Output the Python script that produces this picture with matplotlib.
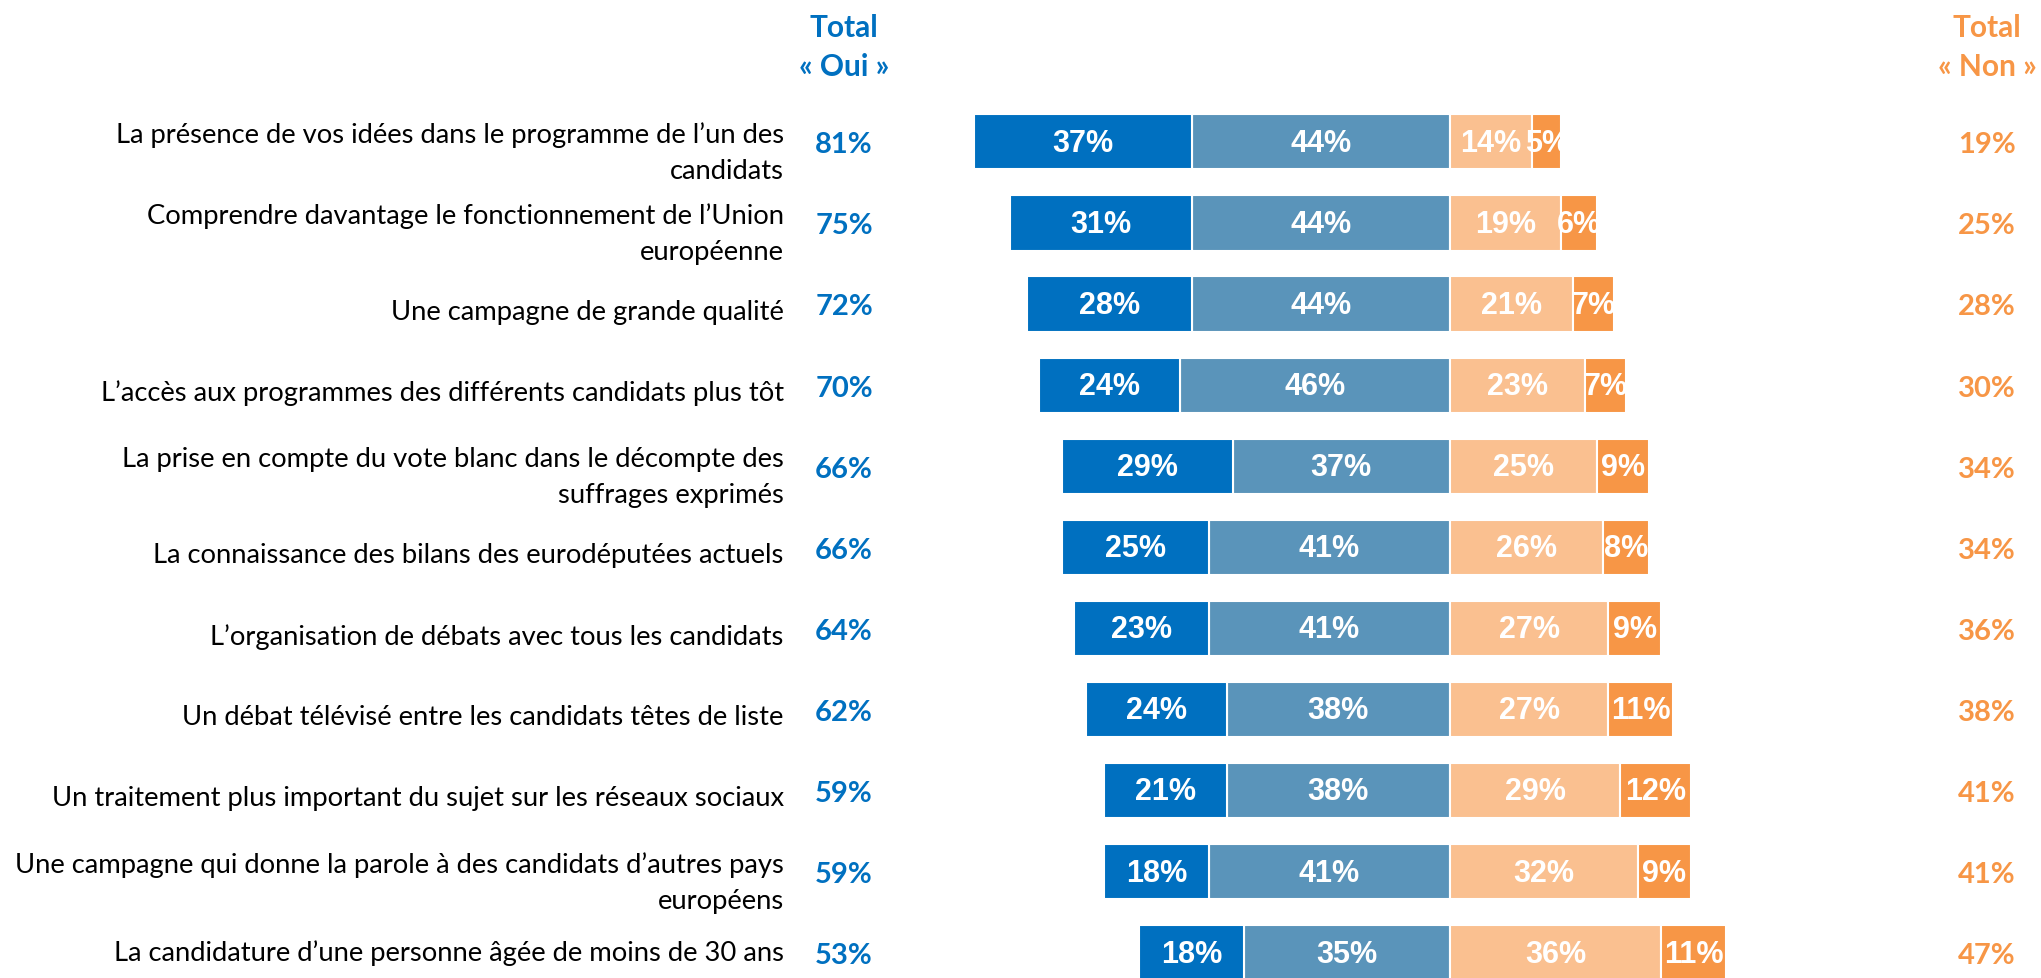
import matplotlib.pyplot as plt
from matplotlib import font_manager

# ── Data ─────────────────────────────────────────────
labels = [
    "La présence de vos idées dans le programme de l\u2019un des\ncandidats",
    "Comprendre davantage le fonctionnement de l\u2019Union\neuropéenne",
    "Une campagne de grande qualité",
    "L\u2019accès aux programmes des différents candidats plus tôt",
    "La prise en compte du vote blanc dans le décompte des\nsuffrages exprimés",
    "La connaissance des bilans des eurodéputées actuels",
    "L\u2019organisation de débats avec tous les candidats",
    "Un débat télévisé entre les candidats têtes de liste",
    "Un traitement plus important du sujet sur les réseaux sociaux",
    "Une campagne qui donne la parole à des candidats d\u2019autres pays\neuropéens",
    "La candidature d\u2019une personne âgée de moins de 30 ans",
]
oui_fort   = [37, 31, 28, 24, 29, 25, 23, 24, 21, 18, 18]
oui_plutot = [44, 44, 44, 46, 37, 41, 41, 38, 38, 41, 35]
non_plutot = [14, 19, 21, 23, 25, 26, 27, 27, 29, 32, 36]
non_fort   = [5, 6, 7, 7, 9, 8, 9, 11, 12, 9, 11]
total_oui  = [81, 75, 72, 70, 66, 66, 64, 62, 59, 59, 53]
total_non  = [19, 25, 28, 30, 34, 34, 36, 38, 41, 41, 47]

C_BLUE    = "#0070C0"
C_STEEL   = "#5A94BA"
C_PEACH   = "#FAC090"
C_ORANGE  = "#F79646"

names = {f.name for f in font_manager.fontManager.ttflist}
TXT_FONT = "Lato" if "Lato" in names else "DejaVu Sans"
NUM_FONT = "Liberation Sans Narrow" if "Liberation Sans Narrow" in names else "Liberation Sans"

fig = plt.figure(figsize=(20.41, 9.79), dpi=100)
ax = fig.add_axes([0, 0, 1, 1])
ax.set_xlim(-247.0, 100.7)
ax.set_ylim(10.32, -1.751)
ax.axis("off")

n = len(labels)
ys = [i + 0.01 for i in range(n)]
h = 0.68
kw = dict(height=h, edgecolor="white", linewidth=1.5)

# left side (Oui), drawn leftwards from zero
ax.barh(ys, [-v for v in oui_plutot], color=C_STEEL, **kw)
ax.barh(ys, [-v for v in oui_fort], left=[-v for v in oui_plutot], color=C_BLUE, **kw)
# right side (Non)
ax.barh(ys, non_plutot, color=C_PEACH, **kw)
ax.barh(ys, non_fort, left=non_plutot, color=C_ORANGE, **kw)

seg_kw = dict(ha="center", va="center", color="white", fontsize=22,
              fontweight="bold", family=NUM_FONT)
for i in range(n):
    a, b, c, d = oui_fort[i], oui_plutot[i], non_plutot[i], non_fort[i]
    ax.text(-b - a / 2, i + 0.02, f"{a}%", **seg_kw)
    ax.text(-b / 2, i + 0.02, f"{b}%", **seg_kw)
    ax.text(c / 2, i + 0.02, f"{c}%", **seg_kw)
    ax.text(c + d / 2, i + 0.02, f"{d}%", **seg_kw)

    if "\n" in labels[i]:
        off = 0.14
    elif i == n - 1:
        off = 0.0
    else:
        off = 0.1
    ax.text(-113.5, i + off, labels[i], ha="right", va="center", fontsize=19.7,
            family=TXT_FONT, color="black", linespacing=1.55)
    ax.text(-103.2, i + 0.04, f"{total_oui[i]}%", ha="center", va="center",
            fontsize=21, fontweight="bold", family=TXT_FONT, color=C_BLUE)
    ax.text(91.5, i + 0.04, f"{total_non[i]}%", ha="center", va="center",
            fontsize=21, fontweight="bold", family=TXT_FONT, color=C_ORANGE)

hdr = dict(ha="center", va="center", fontsize=21.5, fontweight="bold", family=TXT_FONT)
ax.text(-103.2, -1.41, "Total", color=C_BLUE, **hdr)
ax.text(-103.2, -0.93, "\u00ab Oui \u00bb", color=C_BLUE, **hdr)
ax.text(91.5, -1.41, "Total", color=C_ORANGE, **hdr)
ax.text(91.5, -0.93, "\u00ab Non \u00bb", color=C_ORANGE, **hdr)

fig.savefig("out.png", dpi=100)
